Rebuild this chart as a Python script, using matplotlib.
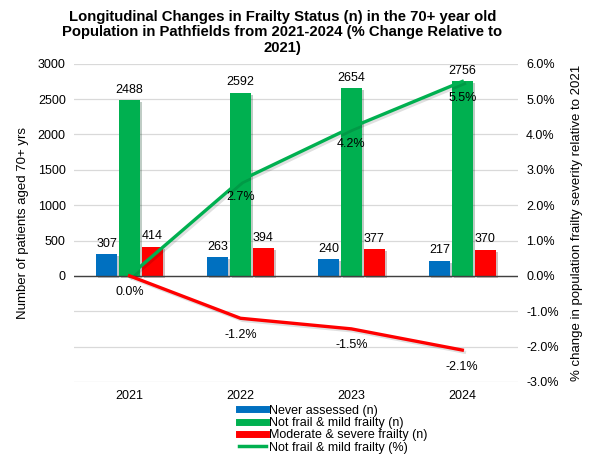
import numpy as np
import matplotlib.pyplot as plt
import matplotlib.patheffects as pe
from matplotlib.lines import Line2D

plt.rcParams['font.family'] = ['Liberation Sans', 'DejaVu Sans']

# ====== DATA ======
years = ["2021", "2022", "2023", "2024"]
never_assessed = [307, 263, 240, 217]
not_frail_mild = [2488, 2592, 2654, 2756]
mod_severe = [414, 394, 377, 370]
pct_not_frail = [0.0, 2.7, 4.2, 5.5]
pct_mod_severe = [0.0, -1.2, -1.5, -2.1]

BLUE = "#0070C0"
GREEN = "#00B050"
RED = "#FF0000"

x = np.arange(len(years))
w = 0.185
off = 0.207

fig = plt.figure(figsize=(6.07, 4.59), dpi=100)
ax = fig.add_axes([0.122, 0.168, 0.731, 0.693])

shadow = [pe.SimplePatchShadow(offset=(1.5, -1.5), alpha=0.25), pe.Normal()]
for vals, dx, c in [(never_assessed, -off, BLUE), (not_frail_mild, 0, GREEN), (mod_severe, off, RED)]:
    bars = ax.bar(x + dx, vals, width=w, color=c, zorder=3)
    for b in bars:
        b.set_path_effects(shadow)
    for xi, v in zip(x + dx, vals):
        ax.text(xi, v + 60, str(v), ha="center", va="bottom", fontsize=9, zorder=4)

ax.set_xlim(-0.5, len(years) - 0.5)
ax.set_ylim(-1500, 3000)
ax.set_yticks(np.arange(-1500, 3001, 500))
ax.set_yticklabels(["" if t < 0 else str(t) for t in np.arange(-1500, 3001, 500)])
ax.set_xticks(x)
ax.set_xticklabels(years)
ax.grid(axis="y", color="#D9D9D9", linewidth=0.9, zorder=0)
ax.axhline(0, color="#404040", linewidth=1.0, zorder=3)
for s in ax.spines.values():
    s.set_visible(False)
ax.tick_params(length=0, labelsize=9, pad=6)
ax.tick_params(axis="x", pad=6)
ax.set_ylabel("Number of patients aged 70+ yrs", fontsize=9.5, labelpad=6)

ax2 = ax.twinx()
ax2.set_ylim(-3, 6)
ax2.set_yticks(np.arange(-3, 6.1, 1))
ax2.set_yticklabels([f"{t:.1f}%" for t in np.arange(-3, 6.1, 1)])
for s in ax2.spines.values():
    s.set_visible(False)
ax2.tick_params(length=0, labelsize=9, pad=6)
ax2.set_ylabel("% change in population frailty severity relative to 2021", fontsize=9.5, labelpad=9)

line_fx = [pe.SimpleLineShadow(offset=(1.5, -1.5), alpha=0.12), pe.Normal()]
ax2.plot(x, pct_not_frail, color=GREEN, linewidth=2.4, path_effects=line_fx, zorder=5)
ax2.plot(x, pct_mod_severe, color=RED, linewidth=2.4, path_effects=line_fx, zorder=5)
for xi, v in zip(x, pct_not_frail):
    if v != 0:
        ax2.text(xi, v - 0.3, f"{v:.1f}%", ha="center", va="top", fontsize=9, zorder=6)
for xi, v in zip(x, pct_mod_severe):
    ax2.text(xi, v - 0.3, f"{v:.1f}%", ha="center", va="top", fontsize=9, zorder=6)

fig.suptitle("Longitudinal Changes in Frailty Status (n) in the 70+ year old\n"
             "Population in Pathfields from 2021-2024 (% Change Relative to\n2021)",
             fontsize=10.7, fontweight="bold", x=0.465, y=0.978, linespacing=1.12)

handles = [
    Line2D([0], [0], color=BLUE, linewidth=5),
    Line2D([0], [0], color=GREEN, linewidth=5),
    Line2D([0], [0], color=RED, linewidth=5),
    Line2D([0], [0], color=GREEN, linewidth=2.5),
]
labels = ["Never assessed (n)", "Not frail & mild frailty (n)",
          "Moderate & severe frailty (n)", "Not frail & mild frailty (%)"]
fig.legend(handles, labels, loc="upper left", bbox_to_anchor=(0.393, 0.118),
           frameon=False, fontsize=9, handlelength=2.2, handletextpad=0.2,
           labelspacing=0.02, borderpad=0, borderaxespad=0)

fig.savefig("out.png", dpi=100)
